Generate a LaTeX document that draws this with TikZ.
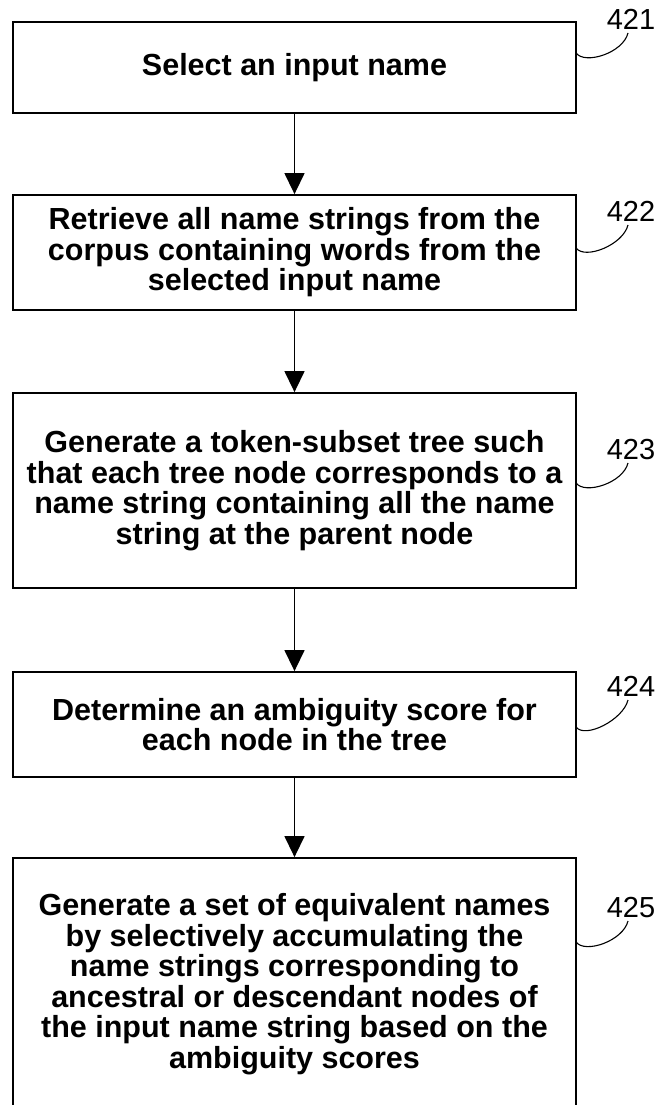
\documentclass[tikz,border=0pt]{standalone}
\usepackage{fontspec}
\setmainfont{Liberation Sans}
\usetikzlibrary{arrows.meta}
\begin{document}
\begin{tikzpicture}[x=1pt,y=-1pt,
  stepbox/.style={draw,line width=1.8pt,rectangle,minimum width=563pt,inner sep=0pt,
    align=center,font=\bfseries\fontsize{30.5}{30.5}\selectfont},
  flow/.style={line width=1.4pt,-{Triangle[length=21pt,width=20pt]}},
  reflabel/.style={font=\fontsize{29}{29}\selectfont,inner sep=0pt,anchor=south},
  hook/.style={line width=1.1pt}]
\useasboundingbox (0,0) rectangle (658,1105);
\node[stepbox,minimum height=91.5pt] (b1) at (294.5,67.4) {Select an input name};
\node[stepbox,minimum height=115pt] (b2) at (294.5,252.5) {Retrieve all name strings from the\\corpus containing words from the\\selected input name};
\node[stepbox,minimum height=195pt] (b3) at (294.5,490.5) {Generate a token-subset tree such\\that each tree node corresponds to a\\name string containing all the name\\string at the parent node};
\node[stepbox,minimum height=105pt] (b4) at (294.5,724.5) {Determine an ambiguity score for\\each node in the tree};
\node[stepbox,minimum height=252pt] (b5) at (294.5,984) {Generate a set of equivalent names\\by selectively accumulating the\\name strings corresponding to\\ancestral or descendant nodes of\\the input name string based on the\\ambiguity scores};
\draw[flow] (b1) -- (b2);
\draw[flow] (b2) -- (b3);
\draw[flow] (b3) -- (b4);
\draw[flow] (b4) -- (b5);
\node[reflabel] (l1) at (631,30) {421};
\node[reflabel] (l2) at (631,222) {422};
\node[reflabel] (l3) at (631,460) {423};
\node[reflabel] (l4) at (631,697) {424};
\node[reflabel] (l5) at (631,918) {425};
\coordinate (s1) at (576,53);
\coordinate (s2) at (576,248);
\coordinate (s3) at (576,483);
\coordinate (s4) at (576,727);
\coordinate (s5) at (576,942);
\foreach \i in {1,...,5}{
  \draw[hook] (s\i) .. controls +(9,12) and +(-5,20) .. ([xshift=-3pt,yshift=-3pt]l\i.south);
}
\end{tikzpicture}
\end{document}
